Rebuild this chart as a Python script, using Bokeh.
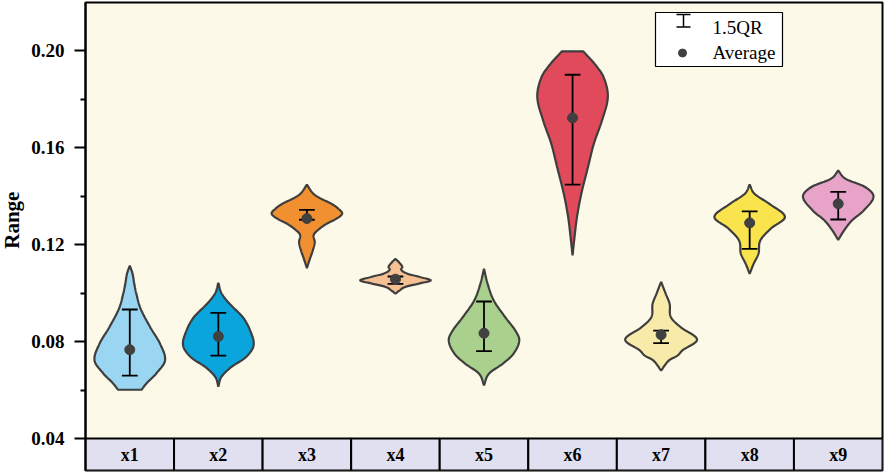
import numpy as np
from bokeh.plotting import figure
from bokeh.layouts import row
from bokeh.models import FixedTicker, PrintfTickFormatter, Range1d
from bokeh.core.properties import value
from bokeh.embed import file_html
from bokeh.resources import INLINE

# ---------------- data ----------------
categories = ["x1", "x2", "x3", "x4", "x5", "x6", "x7", "x8", "x9"]
colors = ["#9AD6F2", "#0BA5DD", "#F19031", "#F5C193", "#A9D08D",
          "#E04A5B", "#F8EAA9", "#F9E44E", "#E8A3C9"]

# violin density profiles: y levels and relative half-widths (density)
x1_y = [0.0601, 0.0627, 0.0668, 0.0722, 0.0790, 0.0858, 0.0936, 0.1000, 0.1040, 0.1080, 0.1113]
x1_d = [12, 17, 27, 36, 31, 21, 11, 6.5, 4.5, 2.8, 0]
x2_y = [0.0614, 0.0653, 0.0694, 0.0735, 0.0784, 0.0845, 0.0900, 0.0955, 0.0998, 0.1042]
x2_d = [0, 3, 13, 28, 36, 32.5, 25, 11.7, 3.3, 0]
x3_y = [0.1102, 0.1134, 0.1175, 0.1209, 0.1240, 0.1262, 0.1285, 0.1306, 0.1327, 0.1348, 0.1368, 0.1390, 0.1409, 0.1447]
x3_d = [0, 2.5, 6, 8, 7, 12, 20, 30, 36, 32, 25, 14, 6.7, 0]
x4_y = [0.0997, 0.1010, 0.1025, 0.1040, 0.1052, 0.1066, 0.1080, 0.1095, 0.1108, 0.1125, 0.1141]
x4_d = [0, 4, 10, 25, 36, 25, 12, 6, 7, 4, 0]
x5_y = [0.0619, 0.0667, 0.0708, 0.0749, 0.0804, 0.0845, 0.0900, 0.0969, 0.1038, 0.1100]
x5_d = [0, 5, 19, 30, 36, 32, 21.7, 10, 3.7, 0]
x6_y = [0.1155, 0.1230, 0.1313, 0.1410, 0.1520, 0.1615, 0.1711, 0.1808, 0.1890, 0.1945, 0.1996]
x6_d = [0, 2, 4.5, 9, 15.8, 21.7, 30, 36, 31.7, 22.5, 11]
x7_y = [0.0680, 0.0722, 0.0742, 0.0763, 0.0808, 0.0859, 0.0900, 0.0955, 0.0997, 0.1046]
x7_d = [0, 8, 16.7, 21.7, 36.7, 20, 10, 8.7, 4.7, 0]
x8_y = [0.1079, 0.1120, 0.1162, 0.1216, 0.1266, 0.1314, 0.1368, 0.1409, 0.1447]
x8_d = [0, 4, 9, 10.8, 21.7, 36, 20, 5, 0]
x9_y = [0.1219, 0.1258, 0.1299, 0.1340, 0.1397, 0.1437, 0.1471, 0.1505]
x9_d = [0, 6, 14, 26, 36, 27.5, 7.5, 0]

violin_y = [x1_y, x2_y, x3_y, x4_y, x5_y, x6_y, x7_y, x8_y, x9_y]
violin_d = [x1_d, x2_d, x3_d, x4_d, x5_d, x6_d, x7_d, x8_d, x9_d]

qr_low = [0.0659, 0.0742, 0.1302, 0.1038, 0.0760, 0.1447, 0.0793, 0.1182, 0.1303]
qr_high = [0.0932, 0.0918, 0.1343, 0.1068, 0.0965, 0.1900, 0.0845, 0.1337, 0.1417]
averages = [0.0766, 0.0821, 0.1307, 0.1057, 0.0834, 0.1722, 0.0828, 0.1289, 0.1368]

y_ticks = [0.04, 0.08, 0.12, 0.16, 0.20]
y_minor = [0.06, 0.10, 0.14, 0.18]

y_title = "Range"
legend_labels = ["1.5QR", "Average"]

# ---------------- helpers ----------------
def smooth(ys, ws, n=14):
    ys = np.asarray(ys, float)
    ws = np.asarray(ws, float)
    k = len(ys)
    m = np.zeros(k)
    for i in range(k):
        if i == 0:
            m[i] = (ws[1] - ws[0]) / (ys[1] - ys[0])
        elif i == k - 1:
            m[i] = (ws[-1] - ws[-2]) / (ys[-1] - ys[-2])
        else:
            m[i] = (ws[i + 1] - ws[i - 1]) / (ys[i + 1] - ys[i - 1])
    oy, ow = [], []
    t = np.linspace(0, 1, n, endpoint=False)
    h00 = 2 * t**3 - 3 * t**2 + 1
    h10 = t**3 - 2 * t**2 + t
    h01 = -2 * t**3 + 3 * t**2
    h11 = t**3 - t**2
    for i in range(k - 1):
        h = ys[i + 1] - ys[i]
        w = h00 * ws[i] + h10 * h * m[i] + h01 * ws[i + 1] + h11 * h * m[i + 1]
        oy.extend(ys[i] + t * h)
        ow.extend(w)
    oy.append(ys[-1])
    ow.append(ws[-1])
    return np.array(oy), np.clip(np.array(ow), 0, None)

# ---------------- layout constants ----------------
PX_Y = 2425.0
TITLE_W = 26
LEFT = 85 - TITLE_W
FRAME_W, FRAME_H = 797, 468
TOTAL_H = 2 + FRAME_H + 2
Y0 = 0.04 - 32 / PX_Y
Y1 = Y0 + FRAME_H / PX_Y
NCAT = len(categories)

# ---------------- y-title panel ----------------
tp = figure(width=TITLE_W, height=TOTAL_H, x_range=Range1d(0, TITLE_W), y_range=Range1d(TOTAL_H, 0),
            output_backend="svg", toolbar_location=None, x_axis_location=None, y_axis_location=None,
            min_border=0)
tp.outline_line_color = None
tp.grid.visible = False
tp.background_fill_color = "white"
tp.border_fill_color = "white"
tp.text(x=[11.5], y=[219.5], text=[y_title], angle=np.pi / 2,
        text_font=value("Liberation Serif"), text_font_style="bold", text_font_size="21px",
        text_align="center", text_baseline="middle", text_color="black")

# ---------------- main figure ----------------
p = figure(width=LEFT + FRAME_W + 2, height=TOTAL_H,
           x_range=Range1d(0, NCAT), y_range=Range1d(Y0, Y1),
           output_backend="svg", toolbar_location=None, x_axis_location=None,
           min_border_left=LEFT, min_border_right=2, min_border_top=2, min_border_bottom=2)
p.background_fill_color = "#FDF9E8"
p.border_fill_color = "white"
p.outline_line_color = "black"
p.outline_line_width = 2
p.grid.visible = False

ax = p.yaxis[0]
ax.ticker = FixedTicker(ticks=y_ticks, minor_ticks=y_minor)
ax.formatter = PrintfTickFormatter(format="%.2f")
ax.major_label_text_font = "Liberation Serif"
ax.major_label_text_font_style = "bold"
ax.major_label_text_font_size = "19px"
ax.major_label_text_color = "black"
ax.major_label_standoff = 10
ax.major_tick_out = 11
ax.major_tick_in = 0
ax.minor_tick_out = 5
ax.minor_tick_in = 0
ax.axis_line_width = 2
ax.major_tick_line_width = 2
ax.minor_tick_line_width = 2

dmax = max(max(d) for d in violin_d)
HALF = 0.406
CAP = 0.089

# violins
for i in range(NCAT):
    cx = i + 0.5
    yy, ww = smooth(violin_y[i], np.asarray(violin_d[i]) / dmax)
    xs = np.concatenate([cx + ww * HALF, (cx - ww * HALF)[::-1]])
    ys = np.concatenate([yy, yy[::-1]])
    p.patch(xs, ys, fill_color=colors[i], line_color="#3E3E3E", line_width=2.2)

cx = np.arange(NCAT) + 0.5
# 1.5QR bars
p.segment(x0=cx, y0=qr_low, x1=cx, y1=qr_high, line_color="black", line_width=1.8)
p.segment(x0=cx - CAP, y0=qr_low, x1=cx + CAP, y1=qr_low, line_color="black", line_width=1.8)
p.segment(x0=cx - CAP, y0=qr_high, x1=cx + CAP, y1=qr_high, line_color="black", line_width=1.8)
# averages
p.scatter(cx, averages, size=10, fill_color="#404040", line_color="#404040")

# category strip
p.quad(left=np.arange(NCAT), right=np.arange(NCAT) + 1, bottom=Y0, top=y_ticks[0],
       fill_color="#E0E0F0", line_color="black", line_width=2)
p.text(x=cx, y=[(Y0 + y_ticks[0]) / 2] * NCAT, text=categories,
       text_font=value("Liberation Serif"), text_font_style="bold", text_font_size="18px",
       text_align="center", text_baseline="middle", text_color="black")

# legend (positioned from the frame's top-right corner)
PX_X = FRAME_W / NCAT
def lx(px_from_right):
    return NCAT - px_from_right / PX_X
def ly(px_from_zero):
    return 0.04 + px_from_zero / PX_Y

p.quad(left=[lx(227)], right=[lx(100)], bottom=[ly(372)], top=[ly(426)],
       fill_color="white", line_color="black", line_width=1.2)
p.segment(x0=[lx(199)], y0=[ly(411.5)], x1=[lx(199)], y1=[ly(424)], line_color="black", line_width=1.5)
p.segment(x0=[lx(206)], y0=[ly(424)], x1=[lx(192)], y1=[ly(424)], line_color="black", line_width=1.5)
p.segment(x0=[lx(206)], y0=[ly(411.5)], x1=[lx(192)], y1=[ly(411.5)], line_color="black", line_width=1.5)
p.scatter([lx(200)], [ly(385.5)], size=8, fill_color="#404040", line_color="#404040")
p.text(x=[lx(170), lx(170)], y=[ly(411), ly(386)], text=legend_labels,
       text_font=value("Liberation Serif"), text_font_size="19px",
       text_align="left", text_baseline="middle", text_color="black")

layout = row(tp, p, spacing=0)
open("out.html", "w").write(file_html(layout, INLINE))
